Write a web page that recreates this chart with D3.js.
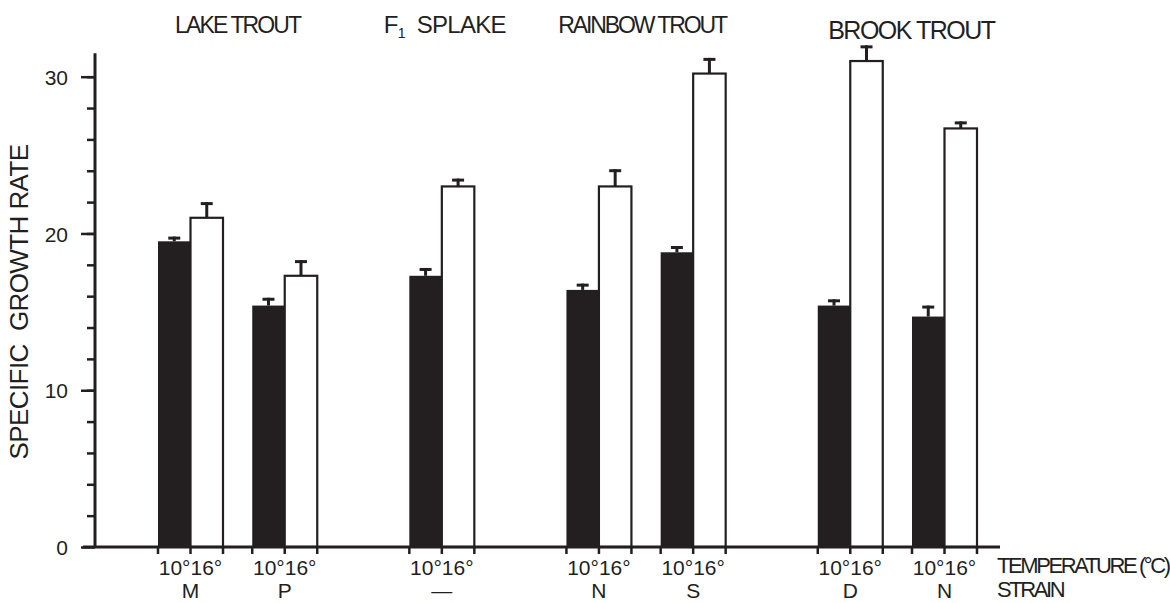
<!DOCTYPE html>
<html>
<head>
<meta charset="utf-8">
<script src="https://cdn.jsdelivr.net/npm/d3@7"></script>
<style>
  body { margin: 0; background: #fff; }
  svg { display: block; }
  text { font-family: "Liberation Sans", Arial, sans-serif; fill: #231f20; }
</style>
</head>
<body>
<div id="graph_container"></div>
<script>
// values
const species = ['LAKE TROUT', 'SPLAKE', 'RAINBOW TROUT', 'BROOK TROUT'];
const strains = ['M', 'P', '\u2014', 'N', 'S', 'D', 'N'];
const strainSpecies = [0, 0, 1, 2, 2, 3, 3];
const temps = ['10\u00b0', '16\u00b0'];
const growth10 = [19.5, 15.4, 17.3, 16.4, 18.8, 15.4, 14.7];
const growth16 = [21.0, 17.3, 23.0, 23.0, 30.2, 31.0, 26.7];
const err10 = [0.3, 0.5, 0.5, 0.4, 0.4, 0.4, 0.7];
const err16 = [1.0, 1.0, 0.5, 1.1, 1.0, 1.0, 0.45];
const majorTicks = [0, 10, 20, 30];

const WIDTH = 1170;
const HEIGHT = 603;
const INK = '#231f20';
const SPECIES_GAP = 0.667;   // extra slot space between species
const BAR_W = 32.5;
// per-title tweaks, the original lettering is uneven
const TITLE_DX = [0, 3, -4, 14];
const TITLE_Y = [33, 33, 33, 39];
const TITLE_SIZE = [23, 24, 23, 25];
const TITLE_SPACING = [-1.9, -0.7, -2.1, -1.5];

let svg;
let x;
let y;
let slots;

function prepare() {
    svg = d3.select('#graph_container').append('svg')
        .attr('width', WIDTH).attr('height', HEIGHT);

    // slot position of each strain pair: one unit per strain, plus a gap between species
    slots = strains.map((s, i) => i + strainSpecies[i] * SPECIES_GAP);

    x = d3.scaleLinear().domain([0, d3.max(slots)]).range([158, 912]);
    y = d3.scaleLinear().domain([0, 30]).range([547, 76.7]);
}

function drawBars() {
    const rows = [];
    strains.forEach((s, i) => {
        rows.push({ i: i, t: 0, v: growth10[i], e: err10[i] });
        rows.push({ i: i, t: 1, v: growth16[i], e: err16[i] });
    });
    const left = (d) => x(slots[d.i]) + d.t * BAR_W;

    const g = svg.append('g').attr('class', 'bars');

    // error bars (upper half only)
    g.selectAll('line.stem').data(rows).enter()
        .append('line')
        .attr('class', 'stem')
        .attr('x1', (d) => left(d) + BAR_W / 2)
        .attr('x2', (d) => left(d) + BAR_W / 2)
        .attr('y1', (d) => y(d.v))
        .attr('y2', (d) => y(d.v + d.e))
        .attr('stroke', INK).attr('stroke-width', 3);
    g.selectAll('line.cap').data(rows).enter()
        .append('line')
        .attr('class', 'cap')
        .attr('x1', (d) => left(d) + BAR_W / 2 - 6)
        .attr('x2', (d) => left(d) + BAR_W / 2 + 6)
        .attr('y1', (d) => y(d.v + d.e) + 1.5)
        .attr('y2', (d) => y(d.v + d.e) + 1.5)
        .attr('stroke', INK).attr('stroke-width', 3);

    g.selectAll('rect').data(rows).enter()
        .append('rect')
        .attr('x', (d) => left(d))
        .attr('y', (d) => y(d.v))
        .attr('width', BAR_W)
        .attr('height', (d) => y(0) - y(d.v))
        .attr('fill', (d) => d.t === 0 ? INK : '#fff')
        .attr('stroke', INK)
        .attr('stroke-width', (d) => d.t === 0 ? 0 : 2.2);
}

function drawAxes() {
    const g = svg.append('g').attr('class', 'axes');

    // y axis: minor ticks every 2, major every 10
    g.append('g')
        .attr('transform', 'translate(95,0)')
        .call(d3.axisLeft(y).tickValues(d3.range(2, 31, 2)).tickSize(8).tickFormat(''))
        .call((a) => a.select('.domain').remove())
        .call((a) => a.selectAll('line').attr('stroke', INK).attr('stroke-width', 2.5));
    g.append('g')
        .attr('transform', 'translate(95,0)')
        .call(d3.axisLeft(y).tickValues(majorTicks).tickSize(14).tickPadding(13).tickFormat(d3.format('d')))
        .call((a) => a.select('.domain').remove())
        .call((a) => a.selectAll('line').attr('stroke', INK).attr('stroke-width', 2.5))
        .call((a) => a.selectAll('text')
            .attr('font-size', 21).attr('dy', '0.36em')
            .style('font-family', '"Liberation Sans", Arial, sans-serif').attr('fill', INK));

    g.append('line')
        .attr('x1', 95).attr('x2', 95)
        .attr('y1', y(0)).attr('y2', y(31.5))
        .attr('stroke', INK).attr('stroke-width', 3);
    g.append('line')
        .attr('x1', 83).attr('x2', 1000)
        .attr('y1', y(0)).attr('y2', y(0))
        .attr('stroke', INK).attr('stroke-width', 3);

    // x ticks at each bar edge
    const edges = [];
    slots.forEach((s) => { edges.push(x(s), x(s) + BAR_W, x(s) + 2 * BAR_W); });
    g.selectAll('line.xtick').data(edges).enter()
        .append('line')
        .attr('class', 'xtick')
        .attr('x1', (d) => d).attr('x2', (d) => d)
        .attr('y1', y(0)).attr('y2', y(0) + 7)
        .attr('stroke', INK).attr('stroke-width', 2.5);
}

function drawLabels() {
    const g = svg.append('g').attr('class', 'labels');
    const mid = (i) => x(slots[i]) + BAR_W;

    g.selectAll('text.temp').data(strains).enter()
        .append('text')
        .attr('class', 'temp')
        .attr('x', (d, i) => mid(i))
        .attr('y', 575)
        .attr('text-anchor', 'middle')
        .attr('font-size', 21)
        .text(temps.join(''));

    g.selectAll('text.strain').data(strains).enter()
        .append('text')
        .attr('class', 'strain')
        .attr('x', (d, i) => mid(i))
        .attr('y', 598)
        .attr('text-anchor', 'middle')
        .attr('font-size', 21)
        .text((d) => d);

    g.append('text')
        .attr('x', 997).attr('y', 573)
        .attr('font-size', 22).attr('letter-spacing', -2.4)
        .text('TEMPERATURE (\u00b0C)');
    g.append('text')
        .attr('x', 997).attr('y', 597)
        .attr('font-size', 22).attr('letter-spacing', -2.4)
        .text('STRAIN');

    // species titles over each group
    const centers = species.map((s, k) => {
        const idx = d3.range(strains.length).filter((i) => strainSpecies[i] === k);
        return (d3.min(idx, mid) + d3.max(idx, mid)) / 2;
    });
    const titles = g.selectAll('text.title').data(species).enter()
        .append('text')
        .attr('class', 'title')
        .attr('x', (d, k) => centers[k] + TITLE_DX[k])
        .attr('y', (d, k) => TITLE_Y[k])
        .attr('text-anchor', 'middle')
        .attr('font-size', (d, k) => TITLE_SIZE[k])
        .attr('letter-spacing', (d, k) => TITLE_SPACING[k]);
    titles.each(function (d) {
        const t = d3.select(this);
        if (d === 'SPLAKE') {
            t.append('tspan').text('F');
            t.append('tspan').attr('font-size', 14).attr('dy', 5).text('1');
            t.append('tspan').attr('dy', -5).text('\u00a0\u00a0' + d);
        } else {
            t.text(d);
        }
    });

    g.append('text')
        .attr('transform', 'translate(28,302) rotate(-90)')
        .attr('text-anchor', 'middle')
        .attr('font-size', 26)
        .attr('letter-spacing', -0.6)
        .text('SPECIFIC\u00a0\u00a0GROWTH RATE');
}

prepare();
drawBars();
drawAxes();
drawLabels();
</script>
</body>
</html>
